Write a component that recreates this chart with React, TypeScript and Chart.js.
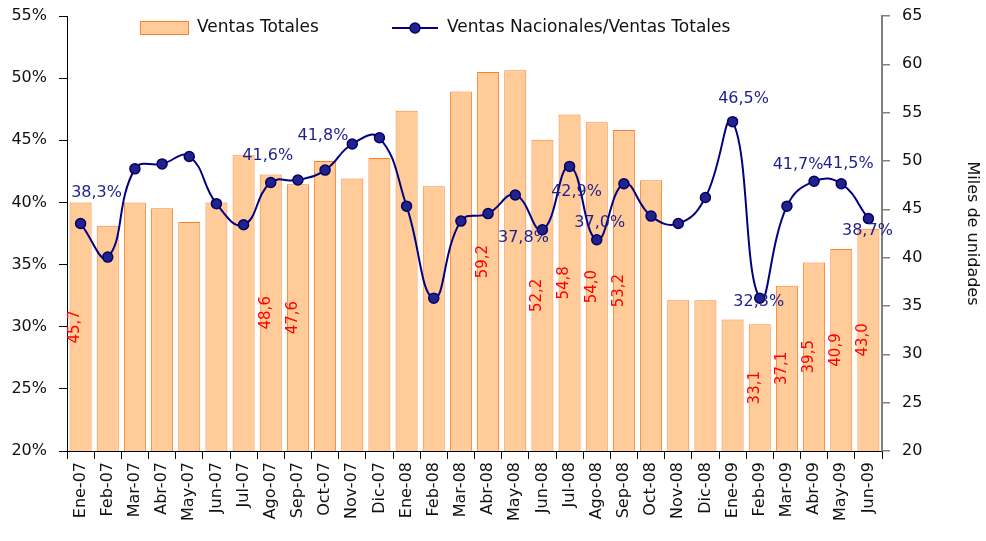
import React, { useEffect, useRef } from "react";
import { Chart, registerables } from "chart.js";

Chart.register(...registerables);

const categories = [
  "Ene-07", "Feb-07", "Mar-07", "Abr-07", "May-07", "Jun-07", "Jul-07", "Ago-07", "Sep-07", "Oct-07",
  "Nov-07", "Dic-07", "Ene-08", "Feb-08", "Mar-08", "Abr-08", "May-08", "Jun-08", "Jul-08", "Ago-08",
  "Sep-08", "Oct-08", "Nov-08", "Dic-08", "Ene-09", "Feb-09", "Mar-09", "Abr-09", "May-09", "Jun-09",
];

// Miles de unidades (right axis)
const ventasTotales = [
  45.7, 43.3, 45.7, 45.1, 43.7, 45.7, 50.6, 48.6, 47.6, 50.0,
  48.2, 50.3, 55.2, 47.4, 57.2, 59.2, 59.4, 52.2, 54.8, 54.0,
  53.2, 48.0, 35.6, 35.6, 33.6, 33.1, 37.1, 39.5, 40.9, 43.0,
];

// Ventas Nacionales / Ventas Totales, % (left axis)
const ratioNacionales = [
  38.3, 35.6, 42.7, 43.1, 43.7, 39.9, 38.2, 41.6, 41.8, 42.6,
  44.7, 45.2, 39.7, 32.3, 38.5, 39.1, 40.6, 37.8, 42.9, 37.0,
  41.5, 38.9, 38.3, 40.4, 46.5, 32.3, 39.7, 41.7, 41.5, 38.7,
];

const leftTickMin = 20;
const leftTickMax = 55;
const rightTickMin = 20;
const rightTickMax = 65;
const tickStep = 5;

// Which points carry a value label
const barLabelIndices = [0, 7, 8, 15, 17, 18, 19, 20, 25, 26, 27, 28, 29];
const lineLabelIndices = [0, 7, 8, 17, 18, 19, 24, 25, 27, 28, 29];

// Styling: label offsets (px) relative to their point
const lineLabelOffsets: Record<number, [number, number]> = {
  0: [16, -31],
  7: [-3, -27],
  8: [25, -44],
  17: [-19, 8],
  18: [7, 25],
  19: [3, -17],
  24: [11, -23],
  25: [-1, 4],
  27: [-16, -16],
  28: [7, -20],
  29: [-1, 12],
};

const FONT = "'DejaVu Sans', Verdana, sans-serif";
const fmt = (v: number) => v.toFixed(1).replace(".", ",");

const labelsPlugin = {
  id: "customLabels",
  afterDatasetsDraw(chart: any) {
    const ctx = chart.ctx;
    const barMeta = chart.getDatasetMeta(0);
    const lineMeta = chart.getDatasetMeta(1);
    const yR = chart.scales.y1;
    ctx.save();
    ctx.font = `15px ${FONT}`;
    ctx.fillStyle = "#FF0000";
    ctx.textAlign = "center";
    ctx.textBaseline = "middle";
    barLabelIndices.forEach((i) => {
      const el = barMeta.data[i];
      const base = yR.getPixelForValue(rightTickMin);
      const yMid = (el.y + base) / 2;
      ctx.save();
      ctx.translate(el.x - 5, yMid);
      ctx.rotate(-Math.PI / 2);
      ctx.fillText(fmt(ventasTotales[i]), 0, 0);
      ctx.restore();
    });
    ctx.font = `16px ${FONT}`;
    ctx.fillStyle = "#1F1F8C";
    lineLabelIndices.forEach((i) => {
      const el = lineMeta.data[i];
      const [dx, dy] = lineLabelOffsets[i] || [0, -20];
      ctx.fillText(fmt(ratioNacionales[i]) + "%", el.x + dx, el.y + dy);
    });
    ctx.restore();
  },
  afterDraw(chart: any) {
    const ctx = chart.ctx;
    ctx.save();
    // legend: bars
    ctx.fillStyle = "#FFCC99";
    ctx.fillRect(140.5, 21.5, 48, 13);
    ctx.strokeStyle = "#FF7F27";
    ctx.lineWidth = 1;
    ctx.strokeRect(140.5, 21.5, 48, 13);
    ctx.font = `17px ${FONT}`;
    ctx.fillStyle = "#111";
    ctx.textAlign = "left";
    ctx.textBaseline = "middle";
    ctx.fillText("Ventas Totales", 197, 28);
    // legend: line
    ctx.strokeStyle = "#000080";
    ctx.lineWidth = 2;
    ctx.beginPath();
    ctx.moveTo(392, 28);
    ctx.lineTo(438, 28);
    ctx.stroke();
    ctx.beginPath();
    ctx.arc(415, 28, 5, 0, Math.PI * 2);
    ctx.fillStyle = "#22228C";
    ctx.fill();
    ctx.lineWidth = 1.5;
    ctx.strokeStyle = "#000066";
    ctx.stroke();
    ctx.fillStyle = "#111";
    ctx.fillText("Ventas Nacionales/Ventas Totales", 447, 28);
    ctx.restore();
  },
};

export default function App() {
  const canvasRef = useRef<HTMLCanvasElement | null>(null);

  useEffect(() => {
    if (!canvasRef.current) return;
    const chart = new Chart(canvasRef.current, {
      type: "bar",
      data: {
        labels: categories,
        datasets: [
          {
            type: "bar",
            label: "Ventas Totales",
            data: ventasTotales,
            yAxisID: "y1",
            backgroundColor: "#FFCC99",
            borderColor: "#FF7F27",
            borderWidth: 1,
            categoryPercentage: 1,
            barPercentage: 0.81,
            order: 2,
          },
          {
            type: "line",
            label: "Ventas Nacionales/Ventas Totales",
            data: ratioNacionales,
            yAxisID: "y",
            borderColor: "#000080",
            borderWidth: 2,
            backgroundColor: "#22228C",
            pointBackgroundColor: "#22228C",
            pointBorderColor: "#000066",
            pointBorderWidth: 1.5,
            pointRadius: 5,
            tension: 0.45,
            fill: false,
            order: 1,
          },
        ] as any,
      },
      options: {
        responsive: false,
        animation: false,
        devicePixelRatio: 1,
        layout: { padding: { top: 16, left: 0, right: 0, bottom: 0 } },
        plugins: { legend: { display: false }, tooltip: { enabled: false } },
        scales: {
          x: {
            offset: true,
            grid: { display: true, drawOnChartArea: false, tickLength: 8, color: "#000", offset: true },
            border: { color: "#000", width: 1 },
            ticks: {
              autoSkip: false,
              maxRotation: 90,
              minRotation: 90,
              color: "#111",
              padding: 3,
              font: { family: FONT, size: 16 },
            },
            afterFit: (s: any) => {
              s.height = 90;
              s.paddingLeft = 0;
              s.paddingRight = 0;
            },
          },
          y: {
            position: "left",
            min: leftTickMin,
            max: leftTickMax,
            ticks: {
              stepSize: tickStep,
              color: "#111",
              padding: 12,
              font: { family: FONT, size: 16 },
              callback: (v: any) => v + "%",
            },
            grid: { display: true, drawOnChartArea: false, tickLength: 8, color: "#000" },
            border: { color: "#000", width: 1 },
            afterFit: (s: any) => {
              s.width = 67;
              s.paddingTop = 0;
              s.paddingBottom = 0;
            },
          },
          y1: {
            position: "right",
            min: rightTickMin,
            max: rightTickMax,
            ticks: {
              stepSize: tickStep,
              color: "#111",
              padding: 12,
              font: { family: FONT, size: 16 },
            },
            grid: { display: true, drawOnChartArea: false, tickLength: 8, color: "#808080", lineWidth: 1.5 },
            border: { color: "#808080", width: 2 },
            title: {
              display: true,
              text: "Miles de unidades",
              color: "#111",
              font: { family: FONT, size: 16 },
              padding: { top: 4, bottom: 0 },
            },
            afterFit: (s: any) => {
              s.width = 104;
              s.paddingTop = 0;
              s.paddingBottom = 0;
            },
          },
        },
      } as any,
      plugins: [labelsPlugin],
    });
    return () => chart.destroy();
  }, []);

  return (
    <div style={{ position: "absolute", left: 0, top: 0, width: 986, height: 541, background: "#fff" }}>
      <canvas ref={canvasRef} width={986} height={541} style={{ width: 986, height: 541 }} />
    </div>
  );
}
